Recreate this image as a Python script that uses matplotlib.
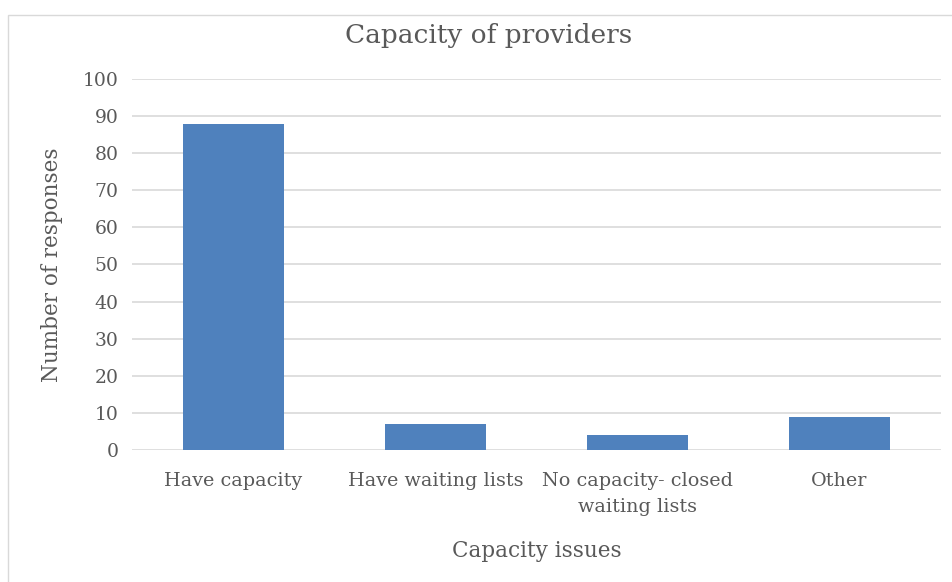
import numpy as np
import matplotlib.pyplot as plt
from matplotlib.patches import Rectangle

# Dados do gráfico
categories = ['Have capacity', 'Have waiting lists', 'No capacity- closed\nwaiting lists', 'Other']
responses = [88, 7, 4, 9]
yticks = np.arange(0, 101, 10)

text_color = '#595959'
plt.rcParams['font.family'] = ['DejaVu Serif']

fig = plt.figure(figsize=(9.52, 5.82), dpi=100)
ax = fig.add_axes([0.139, 0.2268, 0.849, 0.6375])

# moldura clara do gráfico
fig.patches.append(Rectangle((8 / 952, -0.01), 1.0, 1 - 15 / 582 + 0.01,
                             transform=fig.transFigure, fill=False,
                             edgecolor='#d9d9d9', linewidth=1))

x = np.arange(len(categories))
ax.bar(x, responses, width=0.5, color='#4f81bd', zorder=3)

ax.set_xlim(-0.5, len(categories) - 0.5)
ax.set_ylim(0, 100)
ax.set_yticks(yticks)
ax.set_xticks(x)
ax.set_xticklabels(categories, fontsize=13.8, color=text_color, linespacing=1.55)
ax.tick_params(axis='y', labelsize=13.5, labelcolor=text_color, length=0, pad=10)
ax.tick_params(axis='x', length=0, pad=16)
ax.grid(axis='y', color='#d9d9d9', linewidth=1.2, zorder=0)
for s in ax.spines.values():
    s.set_visible(False)

fig.text(489 / 952, 1 - 36 / 582, 'Capacity of providers', fontsize=19,
         color=text_color, ha='center', va='center')
ax.set_xlabel('Capacity issues', fontsize=15.5, color=text_color, labelpad=17)
ax.set_ylabel('Number of responses', fontsize=15.5, color=text_color, va='center')
ax.yaxis.set_label_coords(-80 / 808, 0.5)

fig.savefig('out.png', dpi=100)
